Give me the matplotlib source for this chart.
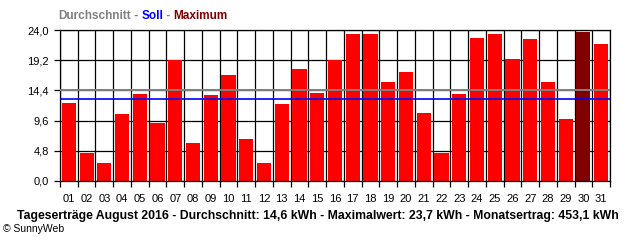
import matplotlib
matplotlib.use("Agg")
import matplotlib.pyplot as plt
from matplotlib.offsetbox import TextArea, HPacker, AnchoredOffsetbox

# daily yield in kWh
days = [f"{d:02d}" for d in range(1, 32)]
yields = [12.4, 4.5, 2.9, 10.6, 13.8, 9.2, 19.3, 6.1, 13.7, 16.9,
          6.6, 2.9, 12.2, 17.8, 14.0, 19.3, 23.3, 23.3, 15.7, 17.3,
          10.8, 4.5, 13.8, 22.8, 23.4, 19.4, 22.5, 15.7, 9.8, 23.7, 21.7]
average = 14.4
target = 13.1
y_ticks = [0.0, 4.8, 9.6, 14.4, 19.2, 24.0]
caption = ("Tageserträge August 2016 - Durchschnitt: 14,6 kWh - "
           "Maximalwert: 23,7 kWh - Monatsertrag: 453,1 kWh")

max_idx = yields.index(max(yields))
colors = ["#800000" if i == max_idx else "#FF0000" for i in range(len(yields))]

plt.rcParams["font.family"] = ["Liberation Sans Narrow", "Liberation Sans", "DejaVu Sans"]

fig = plt.figure(figsize=(6.4, 2.4), dpi=100)
ax = fig.add_axes([60 / 640, 1 - 181 / 240, 550 / 640, 151 / 240])

x = list(range(1, len(days) + 1))
ax.bar(x, yields, width=0.8, color=colors, zorder=2)
ax.axhline(average, color="#808080", lw=1.4, zorder=3)
ax.axhline(target, color="#0000FF", lw=1.2, zorder=3)

ax.set_xlim(0.5, len(days) + 0.5)
ax.set_ylim(0, 24)

# labels centred on the bars, ticks + grid on the day boundaries
ax.set_xticks(x)
ax.set_xticklabels(days, fontsize=8)
ax.set_xticks([i + 0.5 for i in range(len(days) + 1)], minor=True)
ax.tick_params(axis="x", which="major", length=0, pad=9)
ax.tick_params(axis="x", which="minor", length=4, width=0.9, color="black")
ax.grid(True, axis="x", which="minor", color="black", lw=0.9)

ax.set_yticks(y_ticks)
ax.set_yticklabels([f"{v:.1f}".replace(".", ",") for v in y_ticks], fontsize=8)
ax.tick_params(axis="y", length=4, width=0.9, pad=4)
ax.grid(True, axis="y", which="major", color="black", lw=0.9)
ax.set_axisbelow(True)

for side in ["top", "right", "left", "bottom"]:
    ax.spines[side].set_linewidth(0.9)

# coloured legend line above the chart
parts = [("Durchschnitt", "#808080"), (" - ", "#808080"), ("Soll", "#0000FF"),
         (" - ", "#808080"), ("Maximum", "#800000")]
boxes = [TextArea(t, textprops=dict(color=c, fontsize=8.5, fontweight="bold",
                                    family=["Liberation Sans", "DejaVu Sans"]))
         for t, c in parts]
pack = HPacker(children=boxes, pad=0, sep=0)
anchored = AnchoredOffsetbox(loc="lower left", child=pack, pad=0, frameon=False,
                             bbox_to_anchor=(58 / 640, 1 - 22 / 240),
                             bbox_transform=fig.transFigure, borderpad=0)
fig.add_artist(anchored)

fig.text(318 / 640, 1 - 216 / 240, caption, ha="center", va="center",
         fontsize=8.8, fontweight="bold", family=["Liberation Sans", "DejaVu Sans"])
fig.text(3 / 640, 1 - 229 / 240, "© SunnyWeb", ha="left", va="center", fontsize=7.5)

fig.savefig("out.png", dpi=100)
